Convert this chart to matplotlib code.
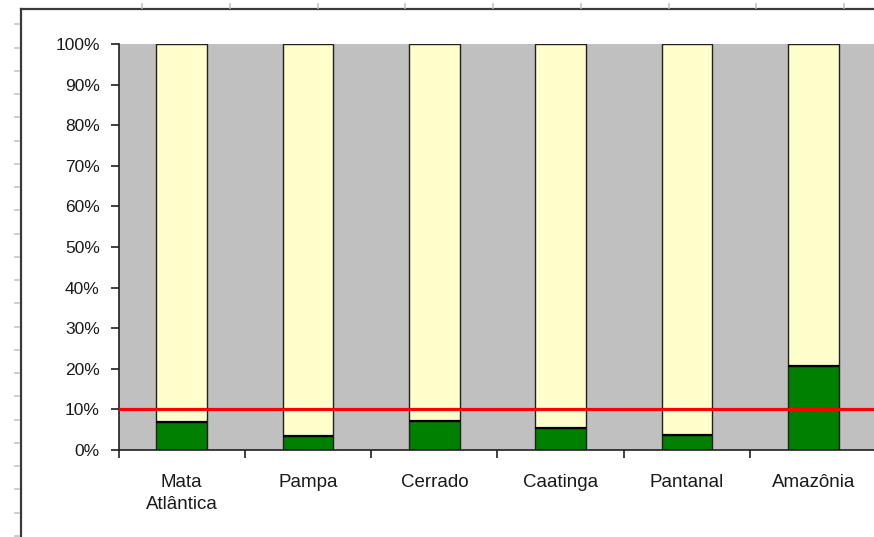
import matplotlib
matplotlib.use('Agg')
import matplotlib.pyplot as plt
from matplotlib.lines import Line2D
import numpy as np

# Share of each biome's area (%)
biomes = ['Mata\nAtlântica', 'Pampa', 'Cerrado', 'Caatinga', 'Pantanal', 'Amazônia']
protected = [7.0, 3.4, 7.1, 5.5, 3.8, 20.6]
threshold = 10
y_ticks = [0, 10, 20, 30, 40, 50, 60, 70, 80, 90, 100]

GRAY = '#C0C0C0'
CREAM = '#FFFFCC'
GREEN = '#008000'
RED = '#FF0000'
EDGE = '#202020'

W, H = 874, 537
fig = plt.figure(figsize=(W / 100, H / 100), dpi=100)
fig.patch.set_facecolor('white')
plt.rcParams['font.family'] = ['Liberation Sans', 'DejaVu Sans']

# plot area in pixels (left, bottom, width, height)
ax = fig.add_axes([118.5 / W, 87 / H, 758 / W, 406 / H])
ax.set_facecolor(GRAY)

x = np.arange(len(biomes))
prot = np.array(protected)
rest = 100 - prot
bw = 0.4

ax.bar(x, rest, bottom=prot, width=bw, color=CREAM, edgecolor=EDGE, lw=1.0, zorder=2)
ax.bar(x, prot, width=bw, color=GREEN, edgecolor=EDGE, lw=1.0, zorder=2)
ax.hlines(prot, x - bw / 2, x + bw / 2, color='black', lw=1.6, zorder=3)

ax.axhline(threshold, color=RED, lw=2.3, zorder=4)

ax.set_xlim(-0.5, len(biomes) - 0.5)
ax.set_ylim(0, 100)
ax.set_yticks(y_ticks)
ax.set_yticklabels([f'{v}%' for v in y_ticks], fontsize=12.5)
ax.set_xticks(x)
ax.set_xticklabels(biomes, fontsize=13.5, linespacing=1.4)
ax.set_xticks(np.arange(len(biomes) + 1) - 0.5, minor=True)
ax.tick_params(axis='x', which='major', length=0, pad=17, colors='#1a1a1a')
ax.tick_params(axis='x', which='minor', length=6, width=1.2, direction='out', color=EDGE)
ax.tick_params(axis='y', length=5.5, width=1.2, direction='out', pad=8, color=EDGE, colors='#1a1a1a')
ax.tick_params(axis='y', which='major', color=EDGE)
for s in ['top', 'right']:
    ax.spines[s].set_visible(False)
for s in ['left', 'bottom']:
    ax.spines[s].set_color(EDGE)
    ax.spines[s].set_linewidth(1.2)

# window frame with ruler marks
fx = lambda p: p / W
fy = lambda p: 1 - p / H
fig.add_artist(Line2D([fx(20.5), fx(20.5)], [fy(8.5), 0], color='#3a3a3a', lw=1.6,
                      transform=fig.transFigure))
fig.add_artist(Line2D([fx(20.5), 1], [fy(8.5), fy(8.5)], color='#3a3a3a', lw=1.6,
                      transform=fig.transFigure))
for py in np.arange(24.3, H, 23.25):
    fig.add_artist(Line2D([fx(15.5), fx(19)], [fy(py), fy(py)], color='#c4c4c4', lw=1.2,
                          transform=fig.transFigure))
for px in np.arange(142, W, 87.75):
    fig.add_artist(Line2D([fx(px), fx(px)], [fy(4), fy(7.5)], color='#c4c4c4', lw=1.2,
                          transform=fig.transFigure))

fig.savefig('out.png', dpi=100, facecolor='white')
